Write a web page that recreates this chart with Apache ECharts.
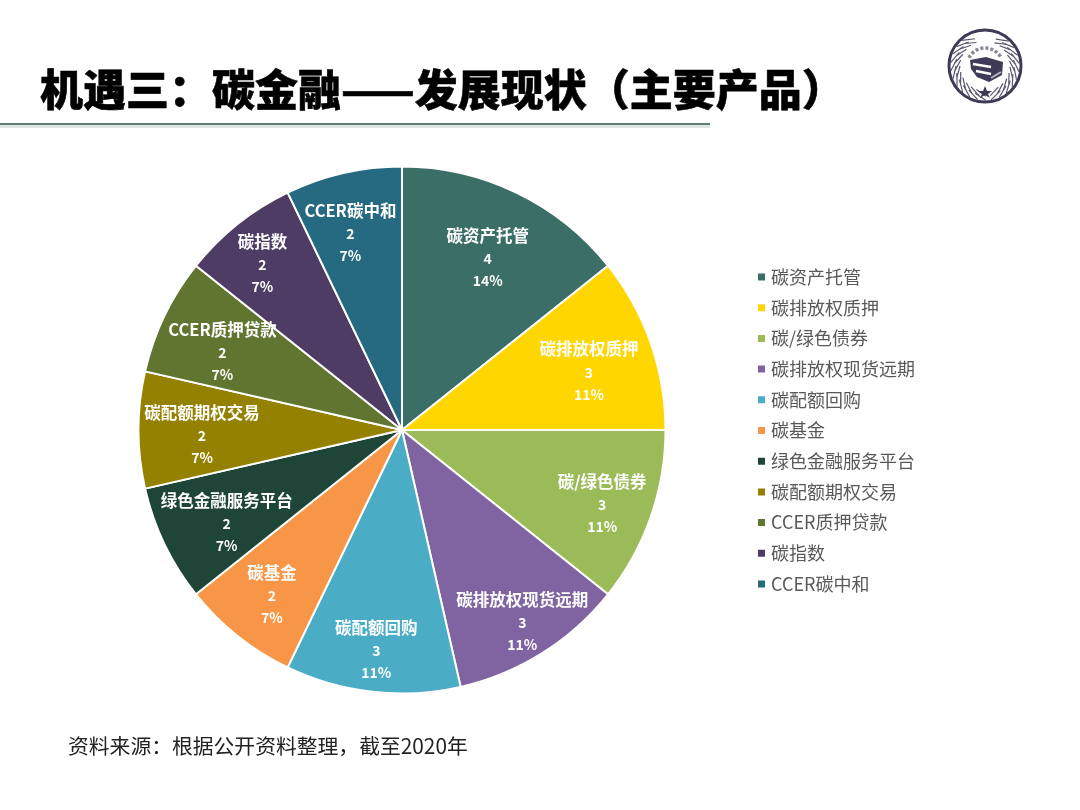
<!DOCTYPE html>
<html><head><meta charset="utf-8">
<style>html,body{margin:0;padding:0;background:#fff}#c{width:1080px;height:810px}</style>
<script src="https://cdn.jsdelivr.net/npm/echarts@6/dist/echarts.min.js"></script>
</head><body><div id="c"></div>
<script>
const categories = ['碳资产托管','碳排放权质押','碳/绿色债券','碳排放权现货远期','碳配额回购','碳基金','绿色金融服务平台','碳配额期权交易','CCER质押贷款','碳指数','CCER碳中和'];
const values = [4,3,3,3,3,2,2,2,2,2,2];
const colors = ['#3b6e66','#ffd600','#9bbb59','#8064a2','#4bacc6','#f79646','#1f4438','#948100','#5f7530','#4f3c64','#256a80'];
const labelRadii = [193,196,212,226,220,210,199,201,196,216,205];
const labelShiftX = [2,2,0,0,-1,1,4,1,-3,-5,-6];
const labelShiftY = [1.5,6,3.5,0.5,0.5,0.5,6,5,6.5,3,2.5];
const titleText = '机遇三：碳金融——发展现状（主要产品）';
const sourceText = '资料来源：根据公开资料整理，截至2020年';
const font = '"Noto Sans CJK SC","Noto Sans",sans-serif';
const CX = 402, CY = 430, R = 263.5;

const logo = [];
const LX = 985, LY = 66, dark = '#3f3b57';
logo.push({type:'circle',shape:{cx:LX,cy:LY,r:36},style:{fill:'#fff',stroke:dark,lineWidth:3}});
for (let a=-160;a<=160;a+=14){
  if (Math.abs(a)<20) continue;
  const t=a*Math.PI/180, s=Math.sin(t), c=Math.cos(t), sk=a>0?0.4:-0.4;
  for (const [r0,r1] of [[25,28],[29,32]]){
    logo.push({type:'line',shape:{x1:LX+r0*s,y1:LY-r0*c,x2:LX+r1*(s+sk*c),y2:LY-r1*(c-sk*s)},style:{stroke:'#5a566f',lineWidth:1.2}});
  }
}
logo.push({type:'arc',shape:{cx:LX,cy:LY,r:18,startAngle:Math.PI*1.15,endAngle:Math.PI*1.85},style:{stroke:'#8a8798',lineWidth:3.5,fill:'none',lineDash:[3,2]}});
logo.push({type:'polygon',shape:{points:[[LX-15,LY-6],[LX+1,LY-9],[LX+18,LY-4],[LX+17,LY+9],[LX+4,LY+16],[LX-8,LY+11],[LX-14,LY+3]]},style:{fill:dark}});
logo.push({type:'line',shape:{x1:LX-12,y1:LY-2,x2:LX+6,y2:LY+1},style:{stroke:'#fff',lineWidth:2.5}});
logo.push({type:'line',shape:{x1:LX-9,y1:LY+5,x2:LX+6,y2:LY+8},style:{stroke:'#fff',lineWidth:2.5}});
logo.push({type:'line',shape:{x1:LX+6,y1:LY+12,x2:LX+16,y2:LY+6},style:{stroke:'#b9b7c4',lineWidth:2}});
logo.push({type:'polygon',shape:{points:[[LX,LY+20],[LX+2,LY+25],[LX+7,LY+25],[LX+3,LY+28],[LX+5,LY+32],[LX,LY+29],[LX-5,LY+32],[LX-3,LY+28],[LX-7,LY+25],[LX-2,LY+25]]},style:{fill:dark}});

const chart = echarts.init(document.getElementById('c'), null, {renderer:'canvas'});
chart.setOption({
  backgroundColor:'#ffffff',
  animation:false,
  color:colors,
  title:[
    {text:titleText,left:40,top:68,padding:0,textStyle:{fontFamily:font,fontSize:43,fontWeight:900,color:'#000',textBorderColor:'#000',textBorderWidth:0.6}},
    {text:sourceText,left:68,top:736,padding:0,textStyle:{fontFamily:font,fontSize:20.8,fontWeight:'normal',color:'#222'}}
  ],
  legend:{
    orient:'vertical',left:751,top:263,
    itemWidth:9,itemHeight:9,itemGap:12.7,icon:'rect',
    data:categories,
    textStyle:{fontFamily:font,fontSize:18,color:'#595959',padding:0}
  },
  series:[{
    type:'pie',
    center:[CX,CY],radius:[0,R],
    startAngle:90,clockwise:true,
    percentPrecision:0,
    avoidLabelOverlap:false,
    data:categories.map((name,i)=>({name,value:values[i]})),
    itemStyle:{borderColor:'#fff',borderWidth:2},
    label:{
      show:true,position:'inside',color:'#fff',
      formatter:'{n|{b}}\n{v|{c}}\n{v|{d}%}',
      rich:{
        n:{fontFamily:font,fontSize:16.5,fontWeight:'bold',color:'#fff',lineHeight:24,align:'center'},
        v:{fontFamily:font,fontSize:14,fontWeight:'bold',color:'#fff',lineHeight:22,align:'center'}
      }
    },
    labelLine:{show:false},
    emphasis:{disabled:true},
    labelLayout:function(p){
      const rect=p.labelRect, i=p.dataIndex;
      const lx=rect.x+rect.width/2-CX, ly=rect.y+rect.height/2-CY;
      const k=labelRadii[i]/Math.hypot(lx,ly);
      return {dx:lx*(k-1)+labelShiftX[i],dy:ly*(k-1)+labelShiftY[i]};
    }
  }],
  graphic:[
    {type:'rect',shape:{x:0,y:125,width:710,height:3},style:{fill:'#dfe7e4'},silent:true},
    {type:'rect',shape:{x:0,y:123,width:710,height:2},style:{fill:'#5f7f75'},silent:true},
    {type:'group',silent:true,children:logo}
  ]
});
</script></body></html>
